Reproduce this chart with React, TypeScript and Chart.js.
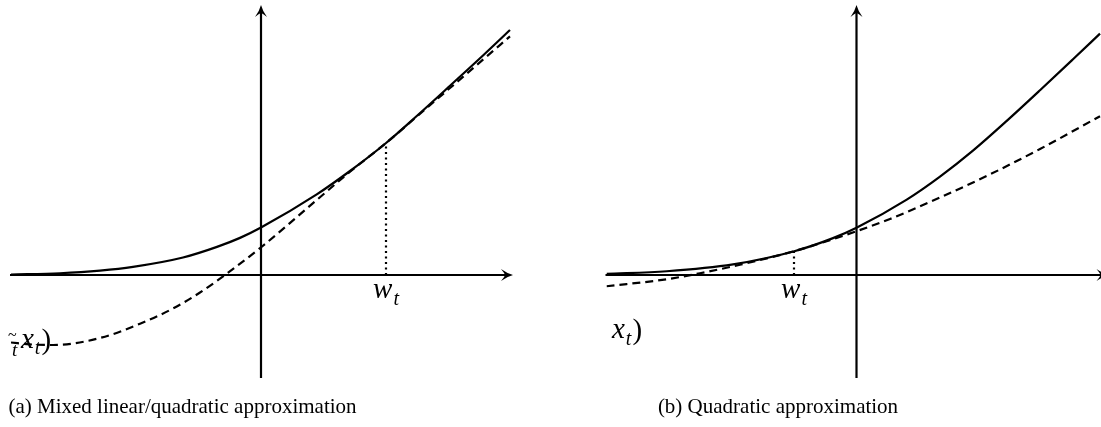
import React, { useEffect, useRef } from "react";
import { Chart, registerables } from "chart.js";

Chart.register(...registerables);

// ---------- Panel (a): mixed linear / quadratic approximation ----------
const solidAX = [-2.0, -1.608, -1.288, -1.024, -0.624, -0.352, -0.168, 0, 0.446, 0.712, 0.998, 1.246, 1.512, 1.776, 1.992];
const solidAY = [0.004, 0.014, 0.035, 0.065, 0.14, 0.225, 0.297, 0.38, 0.645, 0.832, 1.054, 1.272, 1.514, 1.756, 1.96];
const dashedAX = [-2.0, -1.85, -1.664, -1.288, -0.968, -0.704, -0.488, -0.288, 0.006, 0.446, 0.712, 0.998, 1.246, 1.512, 1.776, 1.992];
const dashedAY = [-0.54, -0.555, -0.56, -0.504, -0.39, -0.268, -0.14, 0.0, 0.226, 0.6, 0.826, 1.054, 1.267, 1.496, 1.723, 1.909];
const markA = [1.0, 1.054]; // w_t and curve value

// ---------- Panel (b): quadratic approximation ----------
const solidBX = [-2.0, -1.518, -0.988, -0.498, -0.188, 0, 0.402, 0.668, 0.934, 1.202, 1.468, 1.734, 1.948];
const solidBY = [0.01, 0.03, 0.085, 0.19, 0.295, 0.378, 0.603, 0.787, 0.997, 1.233, 1.478, 1.728, 1.931];
const dashedBX = [-2.0, -1.518, -1.252, -0.932, -0.498, -0.188, 0, 0.268, 0.668, 1.068, 1.468, 1.948];
const dashedBY = [-0.09, -0.034, 0.014, 0.082, 0.191, 0.287, 0.35, 0.448, 0.62, 0.805, 1.008, 1.27];
const markB = [-0.5, 0.19];

// axis extents (data units)
const xAxisRange = [-2.008, 2.008];
const yRange = [-0.824, 2.16];

const captionA = "(a) Mixed linear/quadratic approximation";
const captionB = "(b) Quadratic approximation";
const tickLabel = ["w", "t"];
const curveLabel = ["x", "t", ")"];

const pts = (xs: number[], ys: number[]) => xs.map((x, i) => ({ x, y: ys[i] }));

function drawArrow(ctx: CanvasRenderingContext2D, tx: number, ty: number, angle: number) {
  ctx.save();
  ctx.translate(tx, ty);
  ctx.rotate(angle);
  ctx.beginPath();
  ctx.moveTo(0, 0);
  ctx.quadraticCurveTo(-5.5, -1.4, -12, -6);
  ctx.quadraticCurveTo(-8.5, -1.8, -8, 0);
  ctx.quadraticCurveTo(-8.5, 1.8, -12, 6);
  ctx.quadraticCurveTo(-5.5, 1.4, 0, 0);
  ctx.closePath();
  ctx.fillStyle = "#000";
  ctx.fill();
  ctx.restore();
}

type PanelProps = {
  left: number;
  width: number;
  padLeft: number;
  padRight: number;
  xMax: number;
  sx: number[];
  sy: number[];
  dx: number[];
  dy: number[];
  mark: number[];
  caption: string;
  captionCenter: number; // page x
  labelPos: { x: number; y: number; sub: number; paren: number; stray: boolean };
};

function Panel(p: PanelProps) {
  const ref = useRef<HTMLCanvasElement | null>(null);
  useEffect(() => {
    const canvas = ref.current;
    if (!canvas) return;
    const decor = {
      id: "decor",
      beforeDatasetsDraw(chart: any) {
        const { ctx, scales, chartArea } = chart;
        const xs = scales.x, ys = scales.y;
        const x0 = xs.getPixelForValue(0);
        const y0 = ys.getPixelForValue(0);
        const xl = xs.getPixelForValue(xAxisRange[0]);
        const xr = xs.getPixelForValue(xAxisRange[1]) + 1;
        const yb = chartArea.bottom;
        const yt = chartArea.top;
        ctx.save();
        ctx.strokeStyle = "#000";
        ctx.lineWidth = 2.2;
        ctx.beginPath();
        ctx.moveTo(xl, y0);
        ctx.lineTo(xr - 7, y0);
        ctx.moveTo(x0, yb);
        ctx.lineTo(x0, yt + 7);
        ctx.stroke();
        drawArrow(ctx, xr, y0, 0);
        drawArrow(ctx, x0, yt, -Math.PI / 2);
        ctx.restore();
      },
      afterDraw(chart: any) {
        const { ctx, scales } = chart;
        const xs = scales.x, ys = scales.y;
        const y0 = ys.getPixelForValue(0);
        const wx = xs.getPixelForValue(p.mark[0]);
        ctx.save();
        ctx.fillStyle = "#000";
        ctx.textBaseline = "alphabetic";
        // w_t label
        ctx.font = 'italic 29px "Liberation Serif"';
        const ww = ctx.measureText(tickLabel[0]).width;
        ctx.font = 'italic 20px "Liberation Serif"';
        const tw = ctx.measureText(tickLabel[1]).width;
        const total = ww + 1 + tw;
        const sx = wx - total / 2;
        ctx.font = 'italic 29px "Liberation Serif"';
        ctx.textAlign = "left";
        ctx.fillText(tickLabel[0], sx, y0 + 23);
        ctx.font = 'italic 20px "Liberation Serif"';
        ctx.fillText(tickLabel[1], sx + ww + 1, y0 + 30);
        // curve label (partially cut at left)
        const L = p.labelPos;
        if (L.stray) {
          ctx.font = 'italic 19px "Liberation Serif"';
          ctx.fillText("t", 12, 356);
          ctx.font = '16px "Liberation Serif"';
          ctx.fillText("~", 8, 340);
        }
        ctx.font = 'italic 29px "Liberation Serif"';
        ctx.fillText(curveLabel[0], L.x, L.y);
        const xw = ctx.measureText(curveLabel[0]).width;
        ctx.font = 'italic 20px "Liberation Serif"';
        ctx.fillText(curveLabel[1], L.x + xw + 1, L.y + L.sub);
        const tw2 = ctx.measureText(curveLabel[1]).width;
        ctx.font = '29px "Liberation Serif"';
        ctx.fillText(curveLabel[2], L.x + xw + tw2 + 2, L.y + L.paren);
        // caption
        ctx.font = '21px "Liberation Serif"';
        ctx.textAlign = "center";
        ctx.fillText(p.caption, p.captionCenter - p.left, 413);
        ctx.restore();
      },
    };
    const chart = new Chart(canvas, {
      type: "scatter",
      data: {
        datasets: [
          {
            data: pts(p.sx, p.sy),
            showLine: true,
            borderColor: "#000",
            borderWidth: 2.2,
            pointRadius: 0,
            cubicInterpolationMode: "monotone",
          },
          {
            data: pts(p.dx, p.dy),
            showLine: true,
            borderColor: "#000",
            borderWidth: 2.2,
            borderDash: [8, 5],
            pointRadius: 0,
            cubicInterpolationMode: "monotone",
          },
          {
            data: [
              { x: p.mark[0], y: 0 },
              { x: p.mark[0], y: p.mark[1] },
            ],
            showLine: true,
            borderColor: "#000",
            borderWidth: 2.2,
            borderDash: [2, 3.5],
            pointRadius: 0,
          },
        ],
      } as any,
      options: {
        animation: false,
        responsive: false,
        events: [],
        layout: { padding: { left: p.padLeft, right: p.padRight, top: 5, bottom: 49 } },
        plugins: { legend: { display: false }, tooltip: { enabled: false } },
        scales: {
          x: { type: "linear", min: -2, max: p.xMax, display: false },
          y: { type: "linear", min: yRange[0], max: yRange[1], display: false },
        },
      } as any,
      plugins: [decor],
    });
    return () => chart.destroy();
  }, []);
  return (
    <canvas
      ref={ref}
      width={p.width}
      height={427}
      style={{ position: "absolute", left: p.left, top: 0, width: p.width, height: 427 }}
    />
  );
}

export default function App() {
  return (
    <div style={{ position: "fixed", left: 0, top: 0, width: 1101, height: 427, background: "#fff", overflow: "hidden" }}>
      <Panel
        left={0}
        width={560}
        padLeft={11}
        padRight={49}
        xMax={2}
        sx={solidAX}
        sy={solidAY}
        dx={dashedAX}
        dy={dashedAY}
        mark={markA}
        caption={captionA}
        captionCenter={182.5}
        labelPos={{ x: 21, y: 348, sub: 6, paren: 1, stray: true }}
      />
      <Panel
        left={560}
        width={541}
        padLeft={46.5}
        padRight={0}
        xMax={1.956}
        sx={solidBX}
        sy={solidBY}
        dx={dashedBX}
        dy={dashedBY}
        mark={markB}
        caption={captionB}
        captionCenter={778}
        labelPos={{ x: 52, y: 338, sub: 7, paren: 1, stray: false }}
      />
    </div>
  );
}
